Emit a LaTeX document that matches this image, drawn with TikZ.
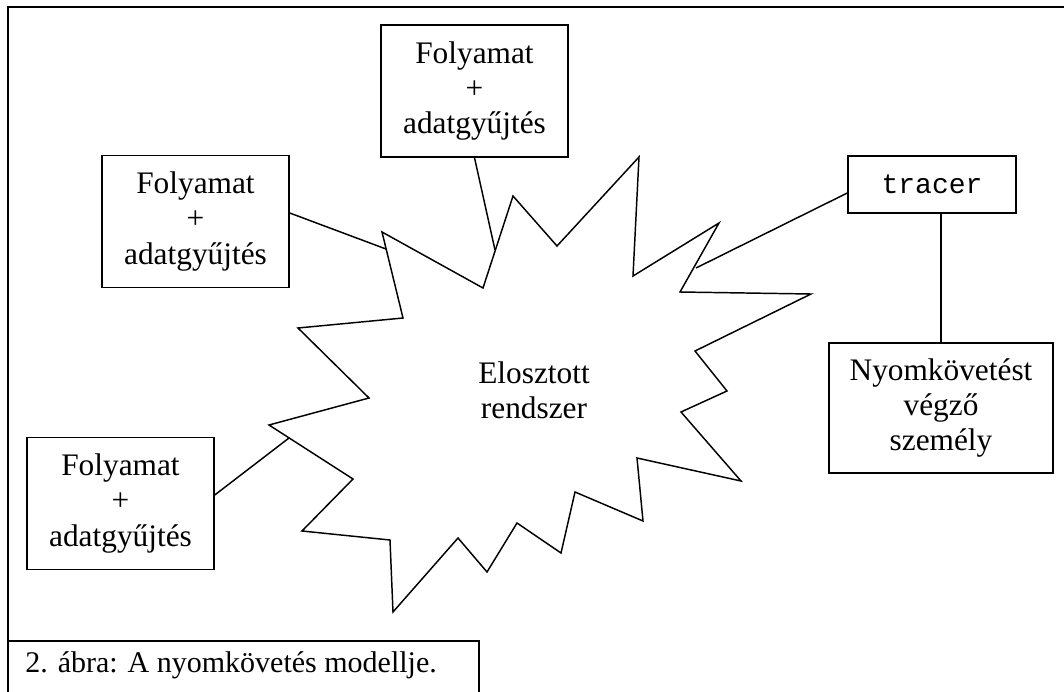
\documentclass[tikz,border=0pt]{standalone}
\usepackage{fontspec}
\setmainfont{Liberation Serif}
\setmonofont{Liberation Mono}
\begin{document}
\begin{tikzpicture}[x=0.75pt,y=-0.75pt,line join=miter,
  ln/.style={line width=1.1pt},
  txt/.style={align=center,inner sep=0pt,font=\fontsize{23.5}{26.5}\selectfont},
  procbox/.style={txt,draw,ln,minimum width=140.25pt,minimum height=99pt},
  tracebox/.style={draw,ln,inner sep=0pt,minimum width=126pt,minimum height=42.75pt,font=\fontsize{21}{23}\selectfont\ttfamily},
  personbox/.style={txt,draw,ln,minimum width=168pt,minimum height=97.5pt}]
\useasboundingbox (0,0) rectangle (1064,692);
\clip (0,0) rectangle (1064,692);
% outer frame (right and bottom sides lie outside the picture)
\draw[line width=1.5pt] (8,7) rectangle (1075,705);
% caption box
\draw[ln] (8,641) rectangle (479,705);
\node[txt,font=\fontsize{22.5}{25}\selectfont,anchor=base west] (cap) at (25,672) {2. ábra: A nyomkövetés modellje.};
% star
\draw[ln] (382,232) -- (483,288) -- (513,196) -- (557,246) -- (639,157) -- (633,276)
  -- (719,223) -- (680,292) -- (811,294) -- (695,351) -- (727,391) -- (681,412)
  -- (741,481) -- (637,458) -- (643,521) -- (575,492) -- (561,553) -- (517,523)
  -- (487,572) -- (458,538) -- (393,612) -- (390,540) -- (302,531) -- (353,479)
  -- (269,425) -- (369,398) -- (298,328) -- (403,318) -- cycle;
\node[txt] (sys) at (534,390) {Elosztott\\rendszer};
% boxes
\node[procbox] (T) at (474.5,91) {Folyamat\\+\\adatgyűjtés};
\node[procbox] (L1) at (195.5,221.5) {Folyamat\\+\\adatgyűjtés};
\node[procbox] (L2) at (120.5,503.5) {Folyamat\\+\\adatgyűjtés};
\node[tracebox] (tr) at (932,184.5) {tracer};
\node[personbox] (pr) at (941,408) {Nyomkövetést\\végző\\személy};
% connector ends on the star outline
\coordinate (cT) at (495,250);
\coordinate (cL1) at (386,249);
\coordinate (cL2) at (289,438);
\coordinate (cTr) at (696,268);
\coordinate (y213) at (0,213);
\coordinate (y495) at (0,495);
\coordinate (y193) at (0,193);
% connectors
\draw[ln] (T.south) -- (cT);
\draw[ln] (L1.east |- y213) -- (cL1);
\draw[ln] (L2.east |- y495) -- (cL2);
\draw[ln] (tr.west |- y193) -- (cTr);
\draw[ln] (tr.south -| pr.north) -- (pr.north);
\end{tikzpicture}
\end{document}
